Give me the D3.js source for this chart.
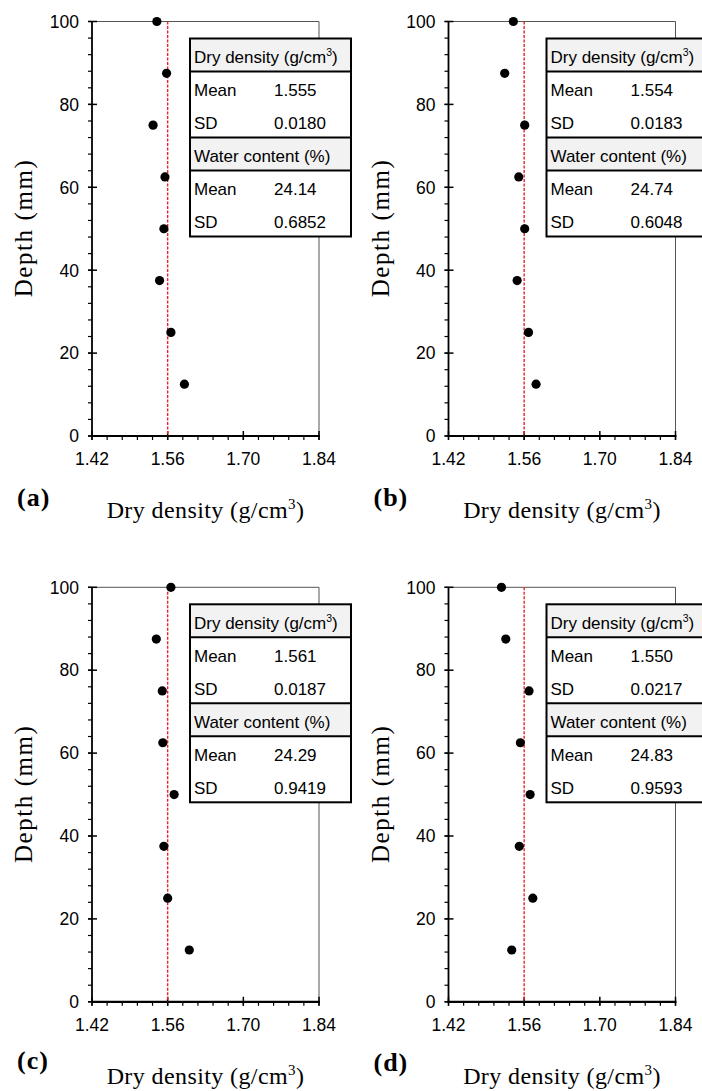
<!DOCTYPE html>
<html>
<head>
<meta charset="utf-8">
<script src="https://cdn.jsdelivr.net/npm/d3@7"></script>
<style>
  body { margin: 0; background: #fff; }
  svg { display: block; }
</style>
</head>
<body>
<svg id="chart" width="702" height="1091"></svg>
<script>
// depth of each sample (mm)
const depths = [100, 87.5, 75, 62.5, 50, 37.5, 25, 12.5];

// dry density per panel (g/cm3)
const densityA = [1.540, 1.558, 1.533, 1.555, 1.553, 1.545, 1.566, 1.591];
const densityB = [1.540, 1.524, 1.561, 1.550, 1.561, 1.547, 1.568, 1.582];
const densityC = [1.566, 1.539, 1.550, 1.551, 1.572, 1.553, 1.560, 1.600];
const densityD = [1.518, 1.526, 1.569, 1.553, 1.571, 1.551, 1.576, 1.537];

const panelLabels = ["(a)", "(b)", "(c)", "(d)"];

// table values
const meanDensity = ["1.555", "1.554", "1.561", "1.550"];
const sdDensity = ["0.0180", "0.0183", "0.0187", "0.0217"];
const meanWater = ["24.14", "24.74", "24.29", "24.83"];
const sdWater = ["0.6852", "0.6048", "0.9419", "0.9593"];

const xTicks = [1.42, 1.56, 1.70, 1.84];
const yTicks = [0, 20, 40, 60, 80, 100];
const refLine = 1.56;

// panel placement
const panels = [
  { x: 92, y: 21.5, data: densityA, lab: 70 },
  { x: 448.5, y: 21.5, data: densityB, lab: 70 },
  { x: 92, y: 587.3, data: densityC, lab: 67 },
  { x: 448.5, y: 587.3, data: densityD, lab: 69 },
];

const W = 227, H = 414.5;
const sans = "'Liberation Sans', Arial, sans-serif";
const serif = "'Liberation Serif', 'Times New Roman', serif";

const svg = d3.select("#chart");

const x = d3.scaleLinear().domain([1.42, 1.84]).range([0, W]);
const y = d3.scaleLinear().domain([0, 100]).range([H, 0]);

panels.forEach((p, i) => {
  const g = svg.append("g").attr("transform", `translate(${p.x},${p.y})`);

  // thin frame on top and right
  g.append("path")
    .attr("d", `M0,0H${W}V${H}`)
    .attr("fill", "none")
    .attr("stroke", "#555")
    .attr("stroke-width", 1);

  // minor ticks
  const xMinor = d3.range(1.42, 1.8401, 0.028);
  g.append("g").selectAll("line").data(xMinor).enter().append("line")
    .attr("x1", (d) => x(d)).attr("x2", (d) => x(d))
    .attr("y1", H).attr("y2", H + 4)
    .attr("stroke", "#000").attr("stroke-width", 1.2);
  const yMinor = d3.range(0, 100.01, 4);
  g.append("g").selectAll("line").data(yMinor).enter().append("line")
    .attr("x1", -4).attr("x2", 0)
    .attr("y1", (d) => y(d)).attr("y2", (d) => y(d))
    .attr("stroke", "#000").attr("stroke-width", 1.2);

  // major ticks crossing the axes
  g.append("g").selectAll("line").data(xTicks).enter().append("line")
    .attr("x1", (d) => x(d)).attr("x2", (d) => x(d))
    .attr("y1", H - 5).attr("y2", H + 4)
    .attr("stroke", "#000").attr("stroke-width", 1.5);
  g.append("g").selectAll("line").data(yTicks).enter().append("line")
    .attr("x1", -4).attr("x2", 5)
    .attr("y1", (d) => y(d)).attr("y2", (d) => y(d))
    .attr("stroke", "#000").attr("stroke-width", 1.5);

  // axis lines
  g.append("line").attr("x1", 0).attr("x2", 0).attr("y1", 0).attr("y2", H)
    .attr("stroke", "#000").attr("stroke-width", 1.8);
  g.append("line").attr("x1", -1).attr("x2", W + 1).attr("y1", H).attr("y2", H)
    .attr("stroke", "#000").attr("stroke-width", 2.2);

  // tick labels
  g.append("g").selectAll("text").data(xTicks).enter().append("text")
    .attr("x", (d) => x(d)).attr("y", H + 29)
    .attr("text-anchor", "middle")
    .style("font-family", sans).style("font-size", "17.5px")
    .text((d) => d.toFixed(2));
  g.append("g").selectAll("text").data(yTicks).enter().append("text")
    .attr("x", -13).attr("y", (d) => y(d)).attr("dy", "0.36em")
    .attr("text-anchor", "end")
    .style("font-family", sans).style("font-size", "17.5px")
    .text((d) => d);

  // red reference line
  g.append("line")
    .attr("x1", x(refLine)).attr("x2", x(refLine))
    .attr("y1", 0).attr("y2", H)
    .attr("stroke", "#e8242a").attr("stroke-width", 1.4)
    .attr("stroke-dasharray", "3,1.5");

  // data points
  g.append("g").selectAll("circle").data(p.data).enter().append("circle")
    .attr("cx", (d) => x(d))
    .attr("cy", (d, j) => y(depths[j]))
    .attr("r", 4.6)
    .attr("fill", "#000");

  // stats table
  const tx = 98, ty = 17, tw = 161, rh = 33;
  const tb = g.append("g").attr("transform", `translate(${tx},${ty})`);
  tb.append("rect").attr("width", tw).attr("height", rh * 6).attr("fill", "#fff");
  [0, 3].forEach((r) => {
    tb.append("rect").attr("y", r * rh).attr("width", tw).attr("height", rh)
      .attr("fill", "#f2f2f2");
  });
  [1, 3, 4].forEach((r) => {
    tb.append("line").attr("x1", 0).attr("x2", tw)
      .attr("y1", r * rh).attr("y2", r * rh)
      .attr("stroke", "#000").attr("stroke-width", 2);
  });
  tb.append("rect").attr("width", tw).attr("height", rh * 6)
    .attr("fill", "none").attr("stroke", "#000").attr("stroke-width", 2);

  const rows = [
    ["Dry density (g/cm", null],
    ["Mean", meanDensity[i]],
    ["SD", sdDensity[i]],
    ["Water content (%)", null],
    ["Mean", meanWater[i]],
    ["SD", sdWater[i]],
  ];
  rows.forEach((r, k) => {
    const t = tb.append("text")
      .attr("x", 4).attr("y", k * rh + 24.5)
      .style("font-family", sans).style("font-size", "17px");
    t.append("tspan").text(r[0]);
    if (k === 0) {
      t.append("tspan").attr("dy", -7).style("font-size", "10.5px").text("3");
      t.append("tspan").attr("dy", 7).text(")");
    }
    if (r[1]) {
      tb.append("text")
        .attr("x", 84).attr("y", k * rh + 24.5)
        .style("font-family", sans).style("font-size", "17px")
        .text(r[1]);
    }
  });

  // axis titles
  g.append("text")
    .attr("transform", `translate(-60,${H / 2}) rotate(-90)`)
    .attr("text-anchor", "middle")
    .attr("textLength", 137).attr("lengthAdjust", "spacing")
    .style("font-family", serif).style("font-size", "25px")
    .text("Depth (mm)");

  const xl = g.append("text")
    .attr("x", W / 2).attr("y", H + 82)
    .attr("text-anchor", "middle")
    .style("font-family", serif).style("font-size", "24px")
    .style("letter-spacing", "0.4px");
  xl.append("tspan").text("Dry density (g/cm");
  xl.append("tspan").attr("dy", -9).style("font-size", "15px").text("3");
  xl.append("tspan").attr("dy", 9).text(")");

  // panel letter
  g.append("text")
    .attr("x", -75).attr("y", H + p.lab)
    .style("font-family", serif).style("font-size", "26px")
    .style("font-weight", "bold")
    .style("letter-spacing", "1px")
    .text(panelLabels[i]);
});
</script>
</body>
</html>
